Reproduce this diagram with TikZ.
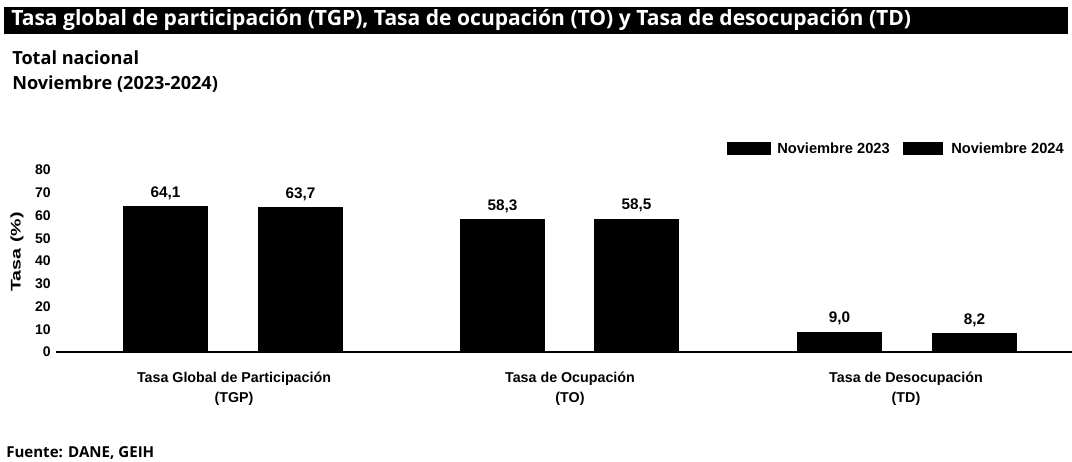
\documentclass[tikz,border=0pt]{standalone}
\usepackage{fontspec}
\setmainfont{Liberation Sans}
\newfontfamily\headfont{Open Sans}
\usetikzlibrary{positioning}

\tikzset{
  bar/.style={fill=black},
  vallabel/.style={font=\bfseries\fontsize{11.5}{13}\selectfont, anchor=base},
  ticklabel/.style={font=\bfseries\fontsize{10.5}{12}\selectfont, anchor=east, inner sep=0pt},
  catlabel/.style={font=\bfseries\fontsize{10.7}{14.5}\selectfont, align=center, anchor=north, inner sep=0pt},
  legendbox/.style={fill=black},
  legendtext/.style={font=\bfseries\fontsize{11}{13}\selectfont, anchor=west, inner sep=0pt},
}

\begin{document}
\begin{tikzpicture}[x=0.75pt, y=-0.75pt]
  \useasboundingbox (0,0) rectangle (1072,461);

  % Title bar
  \fill[black] (4,7) rectangle (1068,34);
  \node[anchor=west, inner sep=0pt, text=white, font=\headfont\bfseries\fontsize{15.8}{18}\selectfont] (title) at (11,20) {Tasa global de participación (TGP), Tasa de ocupación (TO) y Tasa de desocupación (TD)};
  \node[anchor=west, inner sep=0pt, font=\headfont\bfseries\fontsize{13.6}{16}\selectfont] (total) at (12,58) {Total nacional};
  \node[anchor=west, inner sep=0pt, font=\headfont\bfseries\fontsize{13.6}{16}\selectfont] (period) at (12,84) {Noviembre (2023-2024)};

  % Legend
  \fill[legendbox] (727,142) rectangle (771,155);
  \node[legendtext] (leg1) at (777,148.5) {Noviembre 2023};
  \fill[legendbox] (903,142) rectangle (943,155);
  \node[legendtext] (leg2) at (951,148.5) {Noviembre 2024};

  % Y axis
  \foreach \t in {0,10,...,80}
    \node[ticklabel] (tick\t) at (51,352-\t*2.275) {\t};
  \node[rotate=90, inner sep=0pt, font=\bfseries\fontsize{10.5}{12}\selectfont] (ytitle) at (17,252) {\scalebox{1.4}[1]{Tasa (\%)}};

  % Bars
  \foreach \x/\v/\n in {123/64.1/{64,1}, 258/63.7/{63,7}, 460/58.3/{58,3}, 594/58.5/{58,5}, 797/9.0/{9,0}, 932/8.2/{8,2}} {
    \pgfmathsetmacro{\top}{352-\v*2.275}
    \fill[bar] (\x,352) rectangle (\x+85,\top);
    \node[vallabel] (val\x) at (\x+42.5,\top-9) {\n};
  }
  \draw[line width=1.1pt] (56,352) -- (1072,352);

  % Categories
  \node[catlabel] (tgp) at (234,372) {Tasa Global de Participación\\(TGP)};
  \node[catlabel] (to) at (570,372) {Tasa de Ocupación\\(TO)};
  \node[catlabel] (td) at (906,372) {Tasa de Desocupación\\(TD)};

  % Source
  \node[anchor=west, inner sep=0pt, font=\headfont\bfseries\fontsize{11.3}{13}\selectfont] (source) at (6,453) {Fuente: DANE, GEIH};
\end{tikzpicture}
\end{document}
